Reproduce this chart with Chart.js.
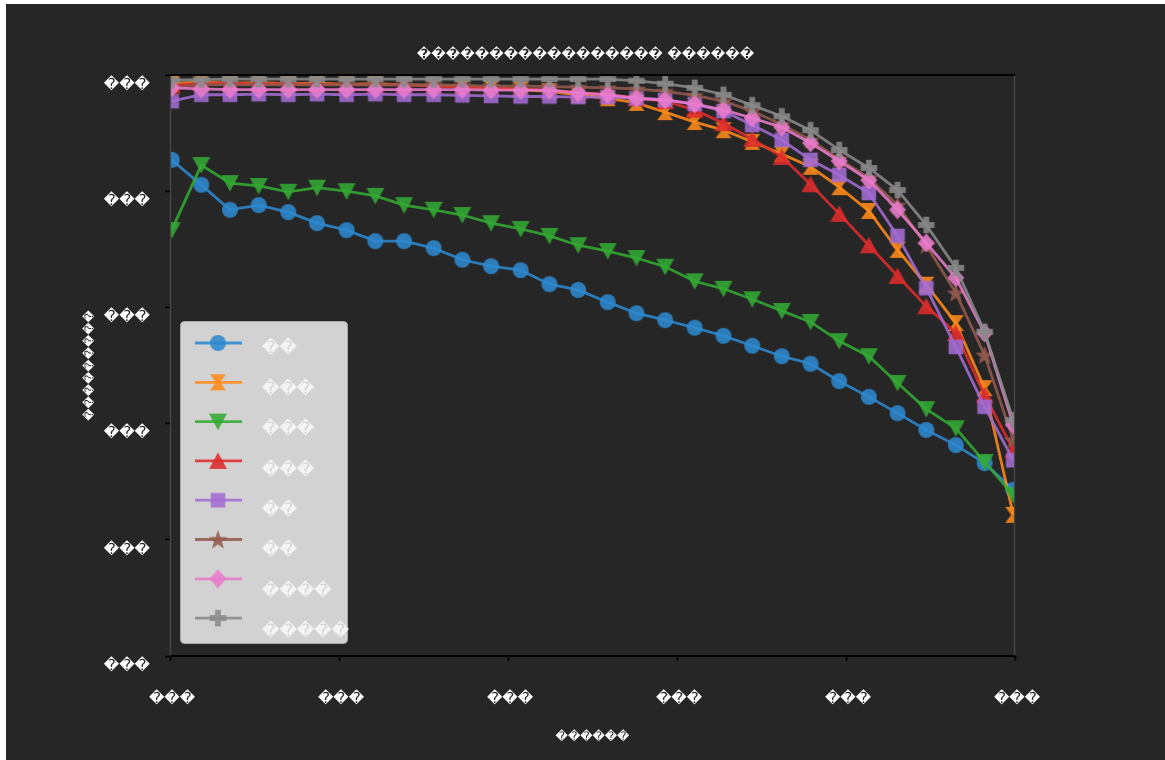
<!DOCTYPE html>
<html><head><meta charset="utf-8">
<script src="https://cdn.jsdelivr.net/npm/chart.js@4.4.0/dist/chart.umd.min.js"></script>
<style>
html,body{margin:0;padding:0;background:#ffffff;width:1165px;height:760px;overflow:hidden}
#wrap{position:absolute;left:6px;top:4px;width:1159px;height:756px;background:#262626}
canvas{display:block}
</style></head><body>
<div id="wrap"><canvas id="c" width="1159" height="756"></canvas></div>
<script>
// ---- text (rendered as replacement glyphs in the original) ----
const R = '\uFFFD';
const chartTitle = R.repeat(17) + ' ' + R.repeat(6);
const xAxisTitle = R.repeat(6);
const yAxisTitle = R.repeat(9);
const xTickLabels = [R+R+R, R+R+R, R+R+R, R+R+R, R+R+R, R+R+R];
const yTickLabels = [R+R+R, R+R+R, R+R+R, R+R+R, R+R+R, R+R+R];
const seriesNames = [R+R, R+R+R, R+R+R, R+R+R, R+R, R+R, R+R+R+R, R+R+R+R+R];

// ---- data ----
const recall = [0.002, 0.037, 0.071, 0.105, 0.140, 0.174, 0.209, 0.243, 0.277, 0.312,
                0.346, 0.380, 0.415, 0.449, 0.483, 0.518, 0.552, 0.586, 0.621, 0.655,
                0.689, 0.724, 0.758, 0.792, 0.827, 0.861, 0.895, 0.930, 0.964, 0.998];
const seriesBlue   = [0.854,0.811,0.768,0.776,0.764,0.745,0.733,0.714,0.714,0.702,0.682,0.671,0.664,0.640,0.630,0.609,0.590,0.578,0.565,0.551,0.534,0.516,0.503,0.473,0.446,0.418,0.389,0.363,0.332,0.286];
const seriesOrange = [0.985,0.988,0.986,0.987,0.985,0.986,0.984,0.985,0.983,0.982,0.980,0.978,0.975,0.972,0.966,0.960,0.952,0.936,0.919,0.905,0.885,0.864,0.842,0.807,0.766,0.699,0.639,0.573,0.461,0.243];
const seriesGreen  = [0.733,0.845,0.814,0.809,0.799,0.806,0.800,0.792,0.776,0.768,0.759,0.745,0.735,0.723,0.707,0.697,0.685,0.670,0.645,0.632,0.614,0.594,0.575,0.542,0.516,0.470,0.425,0.392,0.334,0.277];
const seriesRed    = [0.982,0.986,0.986,0.985,0.985,0.984,0.984,0.983,0.983,0.981,0.979,0.978,0.976,0.974,0.970,0.966,0.960,0.955,0.940,0.917,0.890,0.859,0.812,0.761,0.707,0.654,0.602,0.556,0.449,0.355];
const seriesPurple = [0.955,0.966,0.966,0.967,0.966,0.967,0.966,0.967,0.966,0.966,0.965,0.964,0.963,0.963,0.962,0.962,0.960,0.957,0.950,0.938,0.914,0.888,0.854,0.828,0.797,0.723,0.633,0.532,0.429,0.337];
const seriesBrown  = [0.978,0.983,0.983,0.983,0.983,0.983,0.983,0.983,0.983,0.983,0.982,0.981,0.981,0.980,0.979,0.978,0.976,0.972,0.965,0.955,0.938,0.915,0.888,0.855,0.823,0.776,0.707,0.625,0.518,0.372];
const seriesPink   = [0.978,0.976,0.975,0.975,0.975,0.975,0.975,0.975,0.975,0.975,0.975,0.974,0.974,0.974,0.969,0.966,0.960,0.957,0.950,0.940,0.926,0.910,0.883,0.852,0.819,0.768,0.711,0.651,0.556,0.398];
const seriesGrey   = [0.991,0.992,0.993,0.993,0.993,0.993,0.993,0.993,0.993,0.993,0.993,0.993,0.993,0.993,0.993,0.993,0.990,0.985,0.978,0.966,0.948,0.929,0.905,0.871,0.840,0.802,0.742,0.668,0.558,0.406];
const allSeries = [seriesBlue, seriesOrange, seriesGreen, seriesRed, seriesPurple, seriesBrown, seriesPink, seriesGrey];

// ---- styles ----
const colors = ['#2d89cf','#ff8a1a','#33aa33','#dd2c2c','#a46cd4','#935a4d','#e87bcc','#8a8a8a'];
const shapes = ['circle','hourglass','tridown','triup','square','star','diamond','plus'];
const ALPHA = 0.88;
const FONT = "'DejaVu Sans', sans-serif";

function hexA(h, a){
  const n = parseInt(h.slice(1),16);
  return 'rgba(' + ((n>>16)&255) + ',' + ((n>>8)&255) + ',' + (n&255) + ',' + a + ')';
}
function makeMarker(shape, color){
  const s = 24, c = document.createElement('canvas');
  c.width = s; c.height = s;
  const g = c.getContext('2d');
  g.fillStyle = hexA(color, ALPHA);
  g.translate(s/2, s/2);
  g.beginPath();
  switch(shape){
    case 'circle': g.arc(0,0,8,0,Math.PI*2); break;
    case 'hourglass': g.moveTo(-8,-8); g.lineTo(8,-8); g.lineTo(2.2,0); g.lineTo(8,8); g.lineTo(-8,8); g.lineTo(-2.2,0); break;
    case 'tridown': g.moveTo(-9,-8); g.lineTo(9,-8); g.lineTo(0,8.5); break;
    case 'triup': g.moveTo(-9,8); g.lineTo(9,8); g.lineTo(0,-8.5); break;
    case 'square': g.rect(-7.3,-7.3,14.6,14.6); break;
    case 'star': {
      for(let k=0;k<10;k++){
        const r = k%2===0 ? 10 : 4.2;
        const a = -Math.PI/2 + k*Math.PI/5;
        const px = r*Math.cos(a), py = r*Math.sin(a) + 0.8;
        if(k===0) g.moveTo(px,py); else g.lineTo(px,py);
      }
      break;
    }
    case 'diamond': g.moveTo(0,-9.5); g.lineTo(8.5,0); g.lineTo(0,9.5); g.lineTo(-8.5,0); break;
    case 'plus':
      g.moveTo(-2.9,-8.3); g.lineTo(2.9,-8.3); g.lineTo(2.9,-2.9); g.lineTo(8.3,-2.9); g.lineTo(8.3,2.9);
      g.lineTo(2.9,2.9); g.lineTo(2.9,8.3); g.lineTo(-2.9,8.3); g.lineTo(-2.9,2.9); g.lineTo(-8.3,2.9);
      g.lineTo(-8.3,-2.9); g.lineTo(-2.9,-2.9); break;
  }
  g.closePath(); g.fill();
  return c;
}
const markers = shapes.map((s,i) => makeMarker(s, colors[i]));

const datasets = allSeries.map((vals, i) => ({
  label: seriesNames[i],
  data: vals.map((v, j) => ({x: recall[j], y: v})),
  borderColor: hexA(colors[i], ALPHA),
  backgroundColor: hexA(colors[i], ALPHA),
  borderWidth: 2.8,
  pointStyle: markers[i],
  pointRadius: 8,
  pointHoverRadius: 8,
  tension: 0,
  clip: 0,
  order: allSeries.length - i
}));

const framePlugin = {
  id: 'frame',
  afterDatasetsDraw(chart){
    const {ctx, chartArea: a} = chart;
    ctx.save();
    ctx.strokeStyle = '#4a4a4a'; ctx.lineWidth = 1.2;
    ctx.beginPath(); ctx.moveTo(a.left+0.5, a.top); ctx.lineTo(a.left+0.5, a.bottom); ctx.stroke();
    ctx.beginPath(); ctx.moveTo(a.right-0.5, a.top); ctx.lineTo(a.right-0.5, a.bottom); ctx.stroke();
    ctx.strokeStyle = '#000000'; ctx.lineWidth = 2;
    ctx.beginPath(); ctx.moveTo(a.left, a.top); ctx.lineTo(a.right, a.top); ctx.stroke();
    ctx.beginPath(); ctx.moveTo(a.left, a.bottom); ctx.lineTo(a.right, a.bottom); ctx.stroke();
    ctx.restore();
  }
};

const legendPlugin = {
  id: 'mplLegend',
  afterDraw(chart){
    const {ctx, chartArea: a} = chart;
    const bx = a.left + 10, by = a.top + 246, bw = 167, bh = 322;
    ctx.save();
    ctx.fillStyle = '#d2d2d2';
    ctx.strokeStyle = '#a8a8a8';
    ctx.lineWidth = 1;
    ctx.beginPath(); ctx.roundRect(bx+0.5, by+0.5, bw, bh, 4); ctx.fill(); ctx.stroke();
    for(let i=0;i<seriesNames.length;i++){
      const ry = by + 22 + i*39.3;
      ctx.strokeStyle = hexA(colors[i], ALPHA); ctx.lineWidth = 2.8;
      ctx.beginPath(); ctx.moveTo(bx+15, ry); ctx.lineTo(bx+62, ry); ctx.stroke();
      const m = markers[i];
      ctx.drawImage(m, bx+38 - m.width/2, ry - m.height/2);
      ctx.fillStyle = 'rgba(250,250,250,0.85)';
      ctx.font = '17px ' + FONT;
      ctx.textBaseline = 'middle'; ctx.textAlign = 'left';
      ctx.fillText(seriesNames[i], bx+82, by + 28 + i*40.4);
    }
    ctx.restore();
  }
};

new Chart(document.getElementById('c'), {
  type: 'line',
  data: { datasets },
  options: {
    responsive: false,
    devicePixelRatio: 1,
    animation: false,
    events: [],
    layout: { padding: { left: 0, right: 0, top: 0, bottom: 0 } },
    plugins: {
      legend: { display: false },
      tooltip: { enabled: false },
      title: {
        display: true, text: chartTitle, color: '#ffffff',
        font: { family: FONT, size: 13 },
        padding: { top: 43, bottom: 12.4 }
      }
    },
    scales: {
      x: {
        type: 'linear', min: 0, max: 1,
        afterFit(s){ s.height = 104; },
        border: { display: false },
        grid: { drawOnChartArea: false, drawTicks: true, tickLength: 5, tickColor: '#000000', tickWidth: 1.5 },
        ticks: {
          stepSize: 0.2, autoSkip: false, maxRotation: 0, color: '#ffffff',
          font: { family: FONT, size: 15 }, padding: 29, labelOffset: 2,
          callback: (v, i) => xTickLabels[i]
        },
        title: { display: true, text: xAxisTitle, color: '#ffffff', font: { family: FONT, size: 12 }, padding: { top: 0, bottom: 16 } }
      },
      y: {
        type: 'linear', min: 0, max: 1,
        afterFit(s){ s.width = 164; },
        border: { display: false },
        grid: { drawOnChartArea: false, drawTicks: true, tickLength: 5, tickColor: '#000000', tickWidth: 1.5 },
        ticks: {
          stepSize: 0.2, autoSkip: false, color: '#ffffff',
          font: { family: FONT, size: 15 }, padding: 15, labelOffset: 10,
          callback: (v, i) => yTickLabels[i]
        },
        title: { display: true, text: yAxisTitle, color: '#ffffff', font: { family: FONT, size: 12 }, padding: { top: 77, bottom: 0 } }
      },
      yRightSpace: {
        type: 'linear', position: 'right', min: 0, max: 1,
        afterFit(s){ s.width = 150; },
        border: { display: false },
        grid: { display: false, drawTicks: false },
        ticks: { display: false },
        title: { display: false }
      }
    }
  },
  plugins: [framePlugin, legendPlugin]
});
</script>
</body></html>
